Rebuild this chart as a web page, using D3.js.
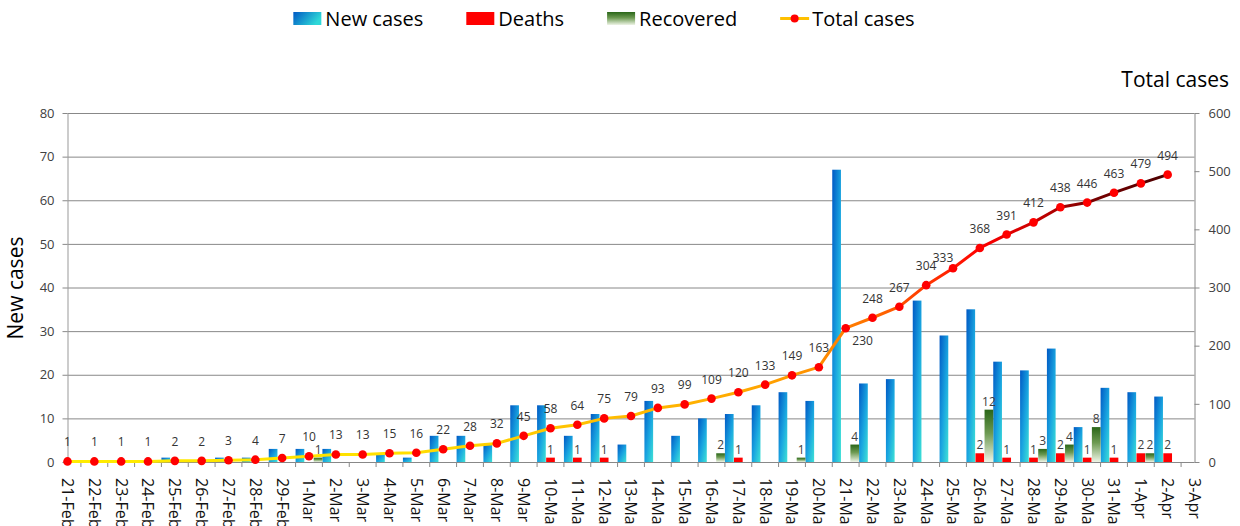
<!DOCTYPE html>
<html>
<head>
<meta charset="utf-8">
<script src="https://cdn.jsdelivr.net/npm/d3@7"></script>
<style>
  body { margin: 0; background: #fff; }
  text { font-family: "Open Sans", sans-serif; }
</style>
</head>
<body>
<svg id="chart"></svg>
<script>
// categories (one per day)
const dates = ["21-Feb","22-Feb","23-Feb","24-Feb","25-Feb","26-Feb","27-Feb","28-Feb","29-Feb",
  "1-Mar","2-Mar","3-Mar","4-Mar","5-Mar","6-Mar","7-Mar","8-Mar","9-Mar","10-Mar","11-Mar",
  "12-Mar","13-Mar","14-Mar","15-Mar","16-Mar","17-Mar","18-Mar","19-Mar","20-Mar","21-Mar",
  "22-Mar","23-Mar","24-Mar","25-Mar","26-Mar","27-Mar","28-Mar","29-Mar","30-Mar","31-Mar",
  "1-Apr","2-Apr","3-Apr"];

// series (3-Apr has no data)
const newCases = [1,0,0,0,1,0,1,1,3,3,3,0,2,1,6,6,4,13,13,6,11,4,14,6,10,11,13,16,14,67,
  18,19,37,29,35,23,21,26,8,17,16,15,null];
const deaths = [0,0,0,0,0,0,0,0,0,0,0,0,0,0,0,0,0,0,1,1,1,0,0,0,0,1,0,0,0,0,
  0,0,0,0,2,1,1,2,1,1,2,2,null];
const recovered = [0,0,0,0,0,0,0,0,0,1,0,0,0,0,0,0,0,0,0,0,0,0,0,0,2,0,0,1,0,4,
  0,0,0,0,12,0,3,4,8,0,2,0,null];
const totalCases = [1,1,1,1,2,2,3,4,7,10,13,13,15,16,22,28,32,45,58,64,75,79,93,99,109,120,
  133,149,163,230,248,267,304,333,368,391,412,438,446,463,479,494,null];

const leftTicks = [0,10,20,30,40,50,60,70,80];
const rightTicks = [0,100,200,300,400,500,600];

const W = 1240, H = 526;
const plot = { left: 67.5, right: 1194.5, top: 113, bottom: 462 };

const svg = d3.select("#chart").attr("width", W).attr("height", H);
const defs = svg.append("defs");

// gradients
const gBlue = defs.append("linearGradient").attr("id", "gBlue")
  .attr("x1", 0).attr("y1", 0).attr("x2", 1).attr("y2", 1);
gBlue.append("stop").attr("offset", 0).attr("stop-color", "#0058c4");
gBlue.append("stop").attr("offset", 0.55).attr("stop-color", "#1aa6e0");
gBlue.append("stop").attr("offset", 1).attr("stop-color", "#3ee2d6");

const gBlueH = defs.append("linearGradient").attr("id", "gBlueH")
  .attr("x1", 0).attr("y1", 0).attr("x2", 1).attr("y2", 0.4);
gBlueH.append("stop").attr("offset", 0).attr("stop-color", "#0058c4");
gBlueH.append("stop").attr("offset", 1).attr("stop-color", "#2ed8d8");

const gGreen = defs.append("linearGradient").attr("id", "gGreen")
  .attr("x1", 0).attr("y1", 0).attr("x2", 0).attr("y2", 1);
gGreen.append("stop").attr("offset", 0).attr("stop-color", "#2a6618");
gGreen.append("stop").attr("offset", 0.45).attr("stop-color", "#6d9a52");
gGreen.append("stop").attr("offset", 1).attr("stop-color", "#eef4e6");

// scales
const step = (plot.right - plot.left) / (dates.length - 1);
const x = d3.scaleBand().domain(dates)
  .range([plot.left - step / 2, plot.right + step / 2]);
const xc = d => x(d) + x.bandwidth() / 2;
const sub = d3.scaleBand().domain(["new", "deaths", "recovered"])
  .range([0, x.bandwidth()]).paddingInner(0.04);
const yL = d3.scaleLinear().domain([0, 80]).range([plot.bottom, plot.top]);
const yR = d3.scaleLinear().domain([0, 600]).range([plot.bottom, plot.top]);

const gLine = defs.append("linearGradient").attr("id", "gLine")
  .attr("gradientUnits", "userSpaceOnUse")
  .attr("x1", xc(dates[0])).attr("x2", xc(dates[41])).attr("y1", 0).attr("y2", 0);
[[0, "#ffec00"], [0.3, "#ffe000"], [0.45, "#ffc400"], [0.62, "#ffa800"], [0.68, "#ff9000"],
 [0.73, "#ff7000"], [0.78, "#ff3800"], [0.83, "#ff0000"], [0.88, "#c80000"],
 [0.93, "#7a0000"], [1, "#4a0000"]].forEach(s =>
  gLine.append("stop").attr("offset", s[0]).attr("stop-color", s[1]));

defs.append("clipPath").attr("id", "plotClip").append("rect")
  .attr("x", plot.left).attr("y", 0)
  .attr("width", plot.right - plot.left).attr("height", plot.bottom);

// gridlines
svg.append("g").selectAll("line").data(leftTicks).join("line")
  .attr("x1", plot.left).attr("x2", plot.right)
  .attr("y1", d => yL(d) + 0.5).attr("y2", d => yL(d) + 0.5)
  .attr("stroke", "#888").attr("stroke-width", 1);

// left axis
const axL = svg.append("g").attr("transform", `translate(${plot.left},0)`)
  .call(d3.axisLeft(yL).tickValues(leftTicks).tickSize(5).tickSizeOuter(0).tickPadding(8));
axL.select(".domain").attr("stroke", "#999");
axL.selectAll(".tick line").attr("stroke", "#888");
axL.selectAll("text").attr("font-size", 13).attr("fill", "#404040")
  .attr("font-family", "Open Sans, sans-serif");

// right axis
const axR = svg.append("g").attr("transform", `translate(${plot.right},0)`)
  .call(d3.axisRight(yR).tickValues(rightTicks).tickSize(5).tickSizeOuter(0).tickPadding(9));
axR.select(".domain").attr("stroke", "#888");
axR.selectAll(".tick line").attr("stroke", "#888");
axR.selectAll("text").attr("font-size", 13).attr("fill", "#404040")
  .attr("font-family", "Open Sans, sans-serif");

// x axis: ticks between categories, labels rotated (cut by the bottom edge, as in the original)
const xa = svg.append("g");
xa.selectAll("line").data(dates.slice(1)).join("line")
  .attr("x1", d => x(d)).attr("x2", d => x(d))
  .attr("y1", plot.bottom).attr("y2", plot.bottom + 5)
  .attr("stroke", "#888");
xa.selectAll("text").data(dates).join("text")
  .attr("transform", d => `translate(${xc(d)},${plot.bottom + 16}) rotate(90)`)
  .attr("dy", "0.35em")
  .attr("font-size", 16).attr("fill", "#111")
  .text(d => d);

// bars
const bars = svg.append("g").attr("clip-path", "url(#plotClip)");
const series = [
  { key: "new", values: newCases, fill: "url(#gBlue)" },
  { key: "deaths", values: deaths, fill: "#ff0000" },
  { key: "recovered", values: recovered, fill: "url(#gGreen)" }
];
series.forEach(s => {
  bars.append("g").selectAll("rect")
    .data(dates.map((d, i) => ({ d, v: s.values[i] })).filter(o => o.v))
    .join("rect")
    .attr("x", o => x(o.d) + sub(s.key))
    .attr("width", sub.bandwidth())
    .attr("y", o => yL(o.v))
    .attr("height", o => yL(0) - yL(o.v))
    .attr("fill", s.fill);
});

// bar labels for deaths and recovered
[series[1], series[2]].forEach(s => {
  svg.append("g").selectAll("text")
    .data(dates.map((d, i) => ({ d, v: s.values[i] })).filter(o => o.v))
    .join("text")
    .attr("x", o => x(o.d) + sub(s.key) + sub.bandwidth() / 2)
    .attr("y", o => yL(o.v) - 4)
    .attr("text-anchor", "middle")
    .attr("font-size", 12).attr("fill", "#404040")
    .text(o => o.v);
});

// total cases line
const pts = dates.map((d, i) => ({ d, v: totalCases[i] })).filter(o => o.v != null);
svg.append("path").datum(pts)
  .attr("fill", "none").attr("stroke", "url(#gLine)").attr("stroke-width", 3)
  .attr("stroke-linejoin", "round")
  .attr("d", d3.line().x(o => xc(o.d)).y(o => yR(o.v)));
svg.append("g").selectAll("circle").data(pts).join("circle")
  .attr("cx", o => xc(o.d)).attr("cy", o => yR(o.v)).attr("r", 4.3)
  .attr("fill", "#ff0000");

const nudge = { "21-Mar": [17, 32], "25-Mar": [-10, 9] };
svg.append("g").selectAll("text").data(pts).join("text")
  .attr("x", o => xc(o.d) + (nudge[o.d] ? nudge[o.d][0] : 0))
  .attr("y", o => yR(o.v) - 15 + (nudge[o.d] ? nudge[o.d][1] : 0))
  .attr("text-anchor", "middle")
  .attr("font-size", 12).attr("fill", "#333")
  .text(o => o.v);

// axis titles
svg.append("text")
  .attr("transform", "translate(23,288) rotate(-90)")
  .attr("text-anchor", "middle")
  .attr("font-family", "Lato, sans-serif").attr("font-size", 21).attr("fill", "#000")
  .text("New cases");
svg.append("text")
  .attr("x", 1229).attr("y", 87)
  .attr("text-anchor", "end")
  .attr("font-family", "Lato, sans-serif").attr("font-size", 21).attr("fill", "#000")
  .text("Total cases");

// legend
const legendItems = [
  { name: "New cases", type: "rect", fill: "url(#gBlueH)" },
  { name: "Deaths", type: "rect", fill: "#ff0000" },
  { name: "Recovered", type: "rect", fill: "url(#gGreen)" },
  { name: "Total cases", type: "line" }
];
const legend = svg.append("g");
const gap = 43;
let lx = 0;
legendItems.forEach(it => {
  const g = legend.append("g").attr("transform", `translate(${lx},0)`);
  if (it.type === "rect") {
    g.append("rect").attr("x", 0).attr("y", 12).attr("width", 28).attr("height", 13)
      .attr("fill", it.fill);
  } else {
    g.append("line").attr("x1", 0).attr("x2", 29).attr("y1", 18.5).attr("y2", 18.5)
      .attr("stroke", "#ffc000").attr("stroke-width", 3);
    g.append("circle").attr("cx", 14.5).attr("cy", 18.5).attr("r", 4).attr("fill", "#ff0000");
  }
  const t = g.append("text").attr("x", 32).attr("y", 25.5)
    .attr("font-family", "Lato, sans-serif").attr("font-size", 20).attr("fill", "#000")
    .text(it.name);
  lx += 32 + t.node().getComputedTextLength() + gap;
});
const lw = lx - gap;
legend.attr("transform", `translate(${604 - lw / 2},0)`);
</script>
</body>
</html>
